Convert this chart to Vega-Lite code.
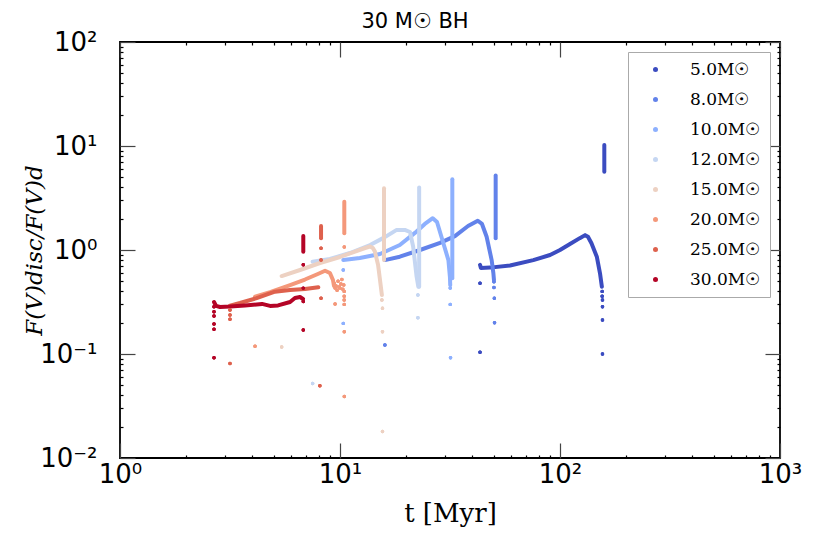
{
  "$schema": "https://vega.github.io/schema/vega-lite/v6.json",
  "width": 660,
  "height": 416,
  "autosize": {"type": "none"},
  "padding": {"left": 120, "top": 42, "right": 50, "bottom": 96},
  "title": {
    "text": "30 M☉ BH",
    "font": "DejaVu Sans",
    "fontSize": 21,
    "fontWeight": "normal",
    "color": "black",
    "anchor": "middle",
    "baseline": "alphabetic",
    "dx": -35,
    "offset": -20
  },
  "config": {
    "view": {"stroke": "black", "strokeWidth": 1.8},
    "axis": {
      "domain": false,
      "tickColor": "black",
      "tickWidth": 1.2,
      "grid": false,
      "labelColor": "black",
      "labelFont": "DejaVu Sans",
      "labelFontSize": 26,
      "labelOverlap": false,
      "labelFlush": false,
      "titleColor": "black",
      "titleFontWeight": "normal"
    }
  },
  "data": {
    "values": [
      {"m": "5.0M☉", "k": "l", "s": "5a", "t": 43.3, "f": 0.72},
      {"m": "5.0M☉", "k": "l", "s": "5a", "t": 43.7, "f": 0.67},
      {"m": "5.0M☉", "k": "l", "s": "5a", "t": 48.1, "f": 0.677},
      {"m": "5.0M☉", "k": "l", "s": "5a", "t": 59.3, "f": 0.709},
      {"m": "5.0M☉", "k": "l", "s": "5a", "t": 75.6, "f": 0.8},
      {"m": "5.0M☉", "k": "l", "s": "5a", "t": 90.1, "f": 0.895},
      {"m": "5.0M☉", "k": "l", "s": "5a", "t": 100, "f": 1.0},
      {"m": "5.0M☉", "k": "l", "s": "5a", "t": 111, "f": 1.14},
      {"m": "5.0M☉", "k": "l", "s": "5a", "t": 123, "f": 1.3},
      {"m": "5.0M☉", "k": "l", "s": "5a", "t": 130, "f": 1.39},
      {"m": "5.0M☉", "k": "l", "s": "5a", "t": 134, "f": 1.34},
      {"m": "5.0M☉", "k": "l", "s": "5a", "t": 139, "f": 1.16},
      {"m": "5.0M☉", "k": "l", "s": "5a", "t": 147, "f": 0.862},
      {"m": "5.0M☉", "k": "l", "s": "5a", "t": 152, "f": 0.597},
      {"m": "5.0M☉", "k": "l", "s": "5a", "t": 155, "f": 0.444},
      {"m": "5.0M☉", "k": "l", "s": "5s", "t": 159, "f": 5.66},
      {"m": "5.0M☉", "k": "l", "s": "5s", "t": 159, "f": 10.2},
      {"m": "5.0M☉", "k": "d", "t": 155.5, "f": 0.4},
      {"m": "5.0M☉", "k": "d", "t": 155.5, "f": 0.36},
      {"m": "5.0M☉", "k": "d", "t": 156, "f": 0.33},
      {"m": "5.0M☉", "k": "d", "t": 156, "f": 0.285},
      {"m": "5.0M☉", "k": "d", "t": 156, "f": 0.212},
      {"m": "5.0M☉", "k": "d", "t": 156, "f": 0.1},
      {"m": "5.0M☉", "k": "d", "t": 43.3, "f": 0.478},
      {"m": "5.0M☉", "k": "d", "t": 43.3, "f": 0.104},

      {"m": "8.0M☉", "k": "l", "s": "8a", "t": 16.0, "f": 0.8},
      {"m": "8.0M☉", "k": "l", "s": "8a", "t": 18.7, "f": 0.862},
      {"m": "8.0M☉", "k": "l", "s": "8a", "t": 23.1, "f": 1.0},
      {"m": "8.0M☉", "k": "l", "s": "8a", "t": 28.5, "f": 1.17},
      {"m": "8.0M☉", "k": "l", "s": "8a", "t": 33.3, "f": 1.36},
      {"m": "8.0M☉", "k": "l", "s": "8a", "t": 38.2, "f": 1.7},
      {"m": "8.0M☉", "k": "l", "s": "8a", "t": 42.3, "f": 1.91},
      {"m": "8.0M☉", "k": "l", "s": "8a", "t": 44.2, "f": 1.78},
      {"m": "8.0M☉", "k": "l", "s": "8a", "t": 46.4, "f": 1.34},
      {"m": "8.0M☉", "k": "l", "s": "8a", "t": 48.9, "f": 0.8},
      {"m": "8.0M☉", "k": "l", "s": "8a", "t": 49.8, "f": 0.597},
      {"m": "8.0M☉", "k": "l", "s": "8a", "t": 50.1, "f": 0.515},
      {"m": "8.0M☉", "k": "l", "s": "8s", "t": 51.0, "f": 1.3},
      {"m": "8.0M☉", "k": "l", "s": "8s", "t": 51.0, "f": 5.2},
      {"m": "8.0M☉", "k": "d", "t": 50.1, "f": 0.495},
      {"m": "8.0M☉", "k": "d", "t": 50.1, "f": 0.436},
      {"m": "8.0M☉", "k": "d", "t": 50.3, "f": 0.343},
      {"m": "8.0M☉", "k": "d", "t": 50.4, "f": 0.2},
      {"m": "8.0M☉", "k": "d", "t": 16.0, "f": 0.122},

      {"m": "10.0M☉", "k": "l", "s": "10a", "t": 10.35, "f": 0.8},
      {"m": "10.0M☉", "k": "l", "s": "10a", "t": 12.3, "f": 0.838},
      {"m": "10.0M☉", "k": "l", "s": "10a", "t": 15.2, "f": 0.915},
      {"m": "10.0M☉", "k": "l", "s": "10a", "t": 18.7, "f": 1.117},
      {"m": "10.0M☉", "k": "l", "s": "10a", "t": 21.9, "f": 1.46},
      {"m": "10.0M☉", "k": "l", "s": "10a", "t": 24.3, "f": 1.78},
      {"m": "10.0M☉", "k": "l", "s": "10a", "t": 26.4, "f": 2.02},
      {"m": "10.0M☉", "k": "l", "s": "10a", "t": 27.6, "f": 1.86},
      {"m": "10.0M☉", "k": "l", "s": "10a", "t": 29.5, "f": 1.16},
      {"m": "10.0M☉", "k": "l", "s": "10a", "t": 31.1, "f": 0.8},
      {"m": "10.0M☉", "k": "l", "s": "10a", "t": 31.6, "f": 0.55},
      {"m": "10.0M☉", "k": "l", "s": "10a", "t": 31.7, "f": 0.46},
      {"m": "10.0M☉", "k": "l", "s": "10s", "t": 32.4, "f": 0.535},
      {"m": "10.0M☉", "k": "l", "s": "10s", "t": 32.4, "f": 4.8},
      {"m": "10.0M☉", "k": "d", "t": 31.7, "f": 0.43},
      {"m": "10.0M☉", "k": "d", "t": 31.7, "f": 0.3},
      {"m": "10.0M☉", "k": "d", "t": 31.8, "f": 0.092},
      {"m": "10.0M☉", "k": "d", "t": 10.35, "f": 0.642},
      {"m": "10.0M☉", "k": "d", "t": 10.35, "f": 0.197},

      {"m": "12.0M☉", "k": "l", "s": "12a", "t": 7.51, "f": 0.772},
      {"m": "12.0M☉", "k": "l", "s": "12a", "t": 9.0, "f": 0.82},
      {"m": "12.0M☉", "k": "l", "s": "12a", "t": 11.1, "f": 0.936},
      {"m": "12.0M☉", "k": "l", "s": "12a", "t": 13.7, "f": 1.117},
      {"m": "12.0M☉", "k": "l", "s": "12a", "t": 16.0, "f": 1.33},
      {"m": "12.0M☉", "k": "l", "s": "12a", "t": 18.1, "f": 1.56},
      {"m": "12.0M☉", "k": "l", "s": "12a", "t": 19.7, "f": 1.56},
      {"m": "12.0M☉", "k": "l", "s": "12a", "t": 20.8, "f": 1.49},
      {"m": "12.0M☉", "k": "l", "s": "12a", "t": 21.5, "f": 1.08},
      {"m": "12.0M☉", "k": "l", "s": "12a", "t": 22.3, "f": 0.553},
      {"m": "12.0M☉", "k": "l", "s": "12a", "t": 22.7, "f": 0.444},
      {"m": "12.0M☉", "k": "l", "s": "12s", "t": 22.9, "f": 0.444},
      {"m": "12.0M☉", "k": "l", "s": "12s", "t": 22.9, "f": 4.0},
      {"m": "12.0M☉", "k": "d", "t": 22.6, "f": 0.369},
      {"m": "12.0M☉", "k": "d", "t": 22.6, "f": 0.223},
      {"m": "12.0M☉", "k": "d", "t": 7.51, "f": 0.052},

      {"m": "15.0M☉", "k": "l", "s": "15a", "t": 5.43, "f": 0.562},
      {"m": "15.0M☉", "k": "l", "s": "15a", "t": 6.58, "f": 0.642},
      {"m": "15.0M☉", "k": "l", "s": "15a", "t": 8.11, "f": 0.75},
      {"m": "15.0M☉", "k": "l", "s": "15a", "t": 10.0, "f": 0.857},
      {"m": "15.0M☉", "k": "l", "s": "15a", "t": 11.7, "f": 0.967},
      {"m": "15.0M☉", "k": "l", "s": "15a", "t": 13.0, "f": 1.045},
      {"m": "15.0M☉", "k": "l", "s": "15a", "t": 13.7, "f": 1.08},
      {"m": "15.0M☉", "k": "l", "s": "15a", "t": 14.1, "f": 1.045},
      {"m": "15.0M☉", "k": "l", "s": "15a", "t": 14.4, "f": 0.97},
      {"m": "15.0M☉", "k": "l", "s": "15a", "t": 14.9, "f": 0.717},
      {"m": "15.0M☉", "k": "l", "s": "15a", "t": 15.2, "f": 0.515},
      {"m": "15.0M☉", "k": "l", "s": "15a", "t": 15.5, "f": 0.369},
      {"m": "15.0M☉", "k": "l", "s": "15s", "t": 15.85, "f": 0.8},
      {"m": "15.0M☉", "k": "l", "s": "15s", "t": 15.85, "f": 3.92},
      {"m": "15.0M☉", "k": "d", "t": 15.5, "f": 0.33},
      {"m": "15.0M☉", "k": "d", "t": 15.6, "f": 0.275},
      {"m": "15.0M☉", "k": "d", "t": 15.6, "f": 0.164},
      {"m": "15.0M☉", "k": "d", "t": 15.6, "f": 0.018},
      {"m": "15.0M☉", "k": "d", "t": 5.43, "f": 0.117},

      {"m": "20.0M☉", "k": "l", "s": "20a", "t": 4.11, "f": 0.356},
      {"m": "20.0M☉", "k": "l", "s": "20a", "t": 4.81, "f": 0.394},
      {"m": "20.0M☉", "k": "l", "s": "20a", "t": 5.93, "f": 0.46},
      {"m": "20.0M☉", "k": "l", "s": "20a", "t": 6.93, "f": 0.52},
      {"m": "20.0M☉", "k": "l", "s": "20a", "t": 7.93, "f": 0.588},
      {"m": "20.0M☉", "k": "l", "s": "20a", "t": 8.55, "f": 0.632},
      {"m": "20.0M☉", "k": "l", "s": "20a", "t": 9.0, "f": 0.601},
      {"m": "20.0M☉", "k": "l", "s": "20a", "t": 9.29, "f": 0.515},
      {"m": "20.0M☉", "k": "l", "s": "20a", "t": 9.39, "f": 0.451},
      {"m": "20.0M☉", "k": "l", "s": "20s", "t": 10.46, "f": 1.45},
      {"m": "20.0M☉", "k": "l", "s": "20s", "t": 10.46, "f": 2.91},
      {"m": "20.0M☉", "k": "d", "t": 9.4, "f": 0.48},
      {"m": "20.0M☉", "k": "d", "t": 9.5, "f": 0.43},
      {"m": "20.0M☉", "k": "d", "t": 9.6, "f": 0.45},
      {"m": "20.0M☉", "k": "d", "t": 9.7, "f": 0.41},
      {"m": "20.0M☉", "k": "d", "t": 9.8, "f": 0.5},
      {"m": "20.0M☉", "k": "d", "t": 9.9, "f": 0.44},
      {"m": "20.0M☉", "k": "d", "t": 10.0, "f": 0.43},
      {"m": "20.0M☉", "k": "d", "t": 10.1, "f": 0.47},
      {"m": "20.0M☉", "k": "d", "t": 10.2, "f": 0.52},
      {"m": "20.0M☉", "k": "d", "t": 10.3, "f": 0.42},
      {"m": "20.0M☉", "k": "d", "t": 10.4, "f": 0.46},
      {"m": "20.0M☉", "k": "d", "t": 10.45, "f": 0.4},
      {"m": "20.0M☉", "k": "d", "t": 10.45, "f": 0.36},
      {"m": "20.0M☉", "k": "d", "t": 10.45, "f": 0.33},
      {"m": "20.0M☉", "k": "d", "t": 10.45, "f": 0.3},
      {"m": "20.0M☉", "k": "d", "t": 9.5, "f": 0.303},
      {"m": "20.0M☉", "k": "d", "t": 10.46, "f": 1.07},
      {"m": "20.0M☉", "k": "d", "t": 10.46, "f": 0.164},
      {"m": "20.0M☉", "k": "d", "t": 10.46, "f": 0.039},
      {"m": "20.0M☉", "k": "d", "t": 4.11, "f": 0.119},

      {"m": "25.0M☉", "k": "l", "s": "25a", "t": 3.162, "f": 0.292},
      {"m": "25.0M☉", "k": "l", "s": "25a", "t": 3.51, "f": 0.309},
      {"m": "25.0M☉", "k": "l", "s": "25a", "t": 4.18, "f": 0.344},
      {"m": "25.0M☉", "k": "l", "s": "25a", "t": 5.06, "f": 0.397},
      {"m": "25.0M☉", "k": "l", "s": "25a", "t": 5.93, "f": 0.412},
      {"m": "25.0M☉", "k": "l", "s": "25a", "t": 6.93, "f": 0.422},
      {"m": "25.0M☉", "k": "l", "s": "25a", "t": 7.97, "f": 0.438},
      {"m": "25.0M☉", "k": "l", "s": "25s", "t": 8.2, "f": 1.3},
      {"m": "25.0M☉", "k": "l", "s": "25s", "t": 8.2, "f": 1.7},
      {"m": "25.0M☉", "k": "d", "t": 8.2, "f": 1.04},
      {"m": "25.0M☉", "k": "d", "t": 8.2, "f": 0.8},
      {"m": "25.0M☉", "k": "d", "t": 8.2, "f": 0.344},
      {"m": "25.0M☉", "k": "d", "t": 8.1, "f": 0.0495},
      {"m": "25.0M☉", "k": "d", "t": 3.162, "f": 0.265},
      {"m": "25.0M☉", "k": "d", "t": 3.162, "f": 0.237},
      {"m": "25.0M☉", "k": "d", "t": 3.162, "f": 0.216},
      {"m": "25.0M☉", "k": "d", "t": 3.162, "f": 0.081},

      {"m": "30.0M☉", "k": "l", "s": "30a", "t": 2.675, "f": 0.316},
      {"m": "30.0M☉", "k": "l", "s": "30a", "t": 2.732, "f": 0.29},
      {"m": "30.0M☉", "k": "l", "s": "30a", "t": 2.848, "f": 0.283},
      {"m": "30.0M☉", "k": "l", "s": "30a", "t": 3.162, "f": 0.286},
      {"m": "30.0M☉", "k": "l", "s": "30a", "t": 3.7, "f": 0.293},
      {"m": "30.0M☉", "k": "l", "s": "30a", "t": 4.42, "f": 0.303},
      {"m": "30.0M☉", "k": "l", "s": "30a", "t": 4.81, "f": 0.29},
      {"m": "30.0M☉", "k": "l", "s": "30a", "t": 5.23, "f": 0.293},
      {"m": "30.0M☉", "k": "l", "s": "30a", "t": 5.93, "f": 0.316},
      {"m": "30.0M☉", "k": "l", "s": "30a", "t": 6.24, "f": 0.345},
      {"m": "30.0M☉", "k": "l", "s": "30a", "t": 6.58, "f": 0.353},
      {"m": "30.0M☉", "k": "l", "s": "30a", "t": 6.79, "f": 0.338},
      {"m": "30.0M☉", "k": "l", "s": "30s", "t": 6.81, "f": 0.96},
      {"m": "30.0M☉", "k": "l", "s": "30s", "t": 6.81, "f": 1.36},
      {"m": "30.0M☉", "k": "d", "t": 6.81, "f": 0.72},
      {"m": "30.0M☉", "k": "d", "t": 6.81, "f": 0.43},
      {"m": "30.0M☉", "k": "d", "t": 6.81, "f": 0.32},
      {"m": "30.0M☉", "k": "d", "t": 6.81, "f": 0.17},
      {"m": "30.0M☉", "k": "d", "t": 2.675, "f": 0.285},
      {"m": "30.0M☉", "k": "d", "t": 2.675, "f": 0.255},
      {"m": "30.0M☉", "k": "d", "t": 2.675, "f": 0.232},
      {"m": "30.0M☉", "k": "d", "t": 2.675, "f": 0.194},
      {"m": "30.0M☉", "k": "d", "t": 2.675, "f": 0.173},
      {"m": "30.0M☉", "k": "d", "t": 2.675, "f": 0.092}
    ]
  },
  "layer": [
    {
      "transform": [{"filter": "datum.k == 'l'"}],
      "mark": {"type": "line", "strokeWidth": 4, "strokeCap": "round", "strokeJoin": "round"},
      "encoding": {
        "x": {
          "field": "t", "type": "quantitative",
          "scale": {"type": "log", "domain": [1, 1000]},
          "axis": {
            "orient": "bottom",
            "values": [1, 10, 100, 1000],
            "labelExpr": "datum.value == 1 ? '10⁰' : datum.value == 10 ? '10¹' : datum.value == 100 ? '10²' : '10³'",
            "tickSize": 15,
            "tickColor": "#444444",
            "offset": -15,
            "labelPadding": 3,
            "title": "t [Myr]",
            "titleFont": "DejaVu Serif",
            "titleFontSize": 26,
            "titlePadding": 13
          }
        },
        "y": {
          "field": "f", "type": "quantitative",
          "scale": {"type": "log", "domain": [0.01, 100]},
          "axis": {
            "orient": "left",
            "values": [0.01, 0.1, 1, 10, 100],
            "labelExpr": "datum.value == 0.01 ? '10⁻²' : datum.value == 0.1 ? '10⁻¹' : datum.value == 1 ? '10⁰' : datum.value == 10 ? '10¹' : '10²'",
            "tickSize": 15,
            "tickColor": "#444444",
            "offset": -15,
            "labelPadding": 23,
            "title": "F(V)disc/F(V)d",
            "titleFont": "DejaVu Serif",
            "titleFontStyle": "italic",
            "titleFontSize": 23,
            "titlePadding": -7
          }
        },
        "stroke": {
          "field": "m", "type": "nominal",
          "scale": {
            "domain": ["30.0M☉", "25.0M☉", "20.0M☉", "15.0M☉", "12.0M☉", "10.0M☉", "8.0M☉", "5.0M☉"],
            "range": ["#b40426", "#de614d", "#f4987a", "#edd1c2", "#c5d6f2", "#8db0fe", "#6282ea", "#3b4cc0"]
          },
          "legend": null
        },
        "detail": {"field": "s"}
      }
    },
    {
      "transform": [{"filter": "datum.k == 'd'"}],
      "mark": {"type": "circle", "size": 12, "opacity": 1},
      "encoding": {
        "x": {
          "field": "t", "type": "quantitative",
          "scale": {"type": "log", "domain": [1, 1000]},
          "axis": {
            "orient": "bottom",
            "values": [2, 3, 4, 5, 6, 7, 8, 9, 20, 30, 40, 50, 60, 70, 80, 90, 200, 300, 400, 500, 600, 700, 800, 900],
            "labels": false,
            "tickSize": 3,
            "offset": -3,
            "title": null
          }
        },
        "y": {
          "field": "f", "type": "quantitative",
          "scale": {"type": "log", "domain": [0.01, 100]},
          "axis": {
            "orient": "left",
            "values": [0.02, 0.03, 0.04, 0.05, 0.06, 0.07, 0.08, 0.09, 0.2, 0.3, 0.4, 0.5, 0.6, 0.7, 0.8, 0.9, 2, 3, 4, 5, 6, 7, 8, 9, 20, 30, 40, 50, 60, 70, 80, 90],
            "labels": false,
            "tickSize": 3,
            "offset": -3,
            "title": null
          }
        },
        "color": {
          "field": "m", "type": "nominal",
          "scale": {
            "domain": ["5.0M☉", "8.0M☉", "10.0M☉", "12.0M☉", "15.0M☉", "20.0M☉", "25.0M☉", "30.0M☉"],
            "range": ["#3b4cc0", "#6282ea", "#8db0fe", "#c5d6f2", "#edd1c2", "#f4987a", "#de614d", "#b40426"]
          },
          "legend": {
            "title": null,
            "orient": "top-right",
            "offset": 10,
            "fillColor": "white",
            "strokeColor": "#aaaaaa",
            "padding": 9,
            "rowPadding": 12,
            "symbolType": "circle",
            "symbolSize": 25,
            "symbolOffset": 10,
            "labelOffset": 26,
            "labelFont": "DejaVu Serif",
            "labelFontSize": 17,
            "labelColor": "black",
            "labelLimit": 0
          }
        }
      }
    },
    {
      "transform": [{"filter": "datum.k == 'd'"}],
      "mark": {"type": "circle", "size": 12, "opacity": 1},
      "encoding": {
        "x": {
          "field": "t", "type": "quantitative",
          "scale": {"type": "log", "domain": [1, 1000]},
          "axis": {"orient": "top", "values": [1, 10, 100, 1000], "labels": false, "tickSize": 15, "tickColor": "#444444", "offset": -15, "title": null}
        },
        "y": {
          "field": "f", "type": "quantitative",
          "scale": {"type": "log", "domain": [0.01, 100]},
          "axis": {"orient": "right", "values": [0.01, 0.1, 1, 10, 100], "labels": false, "tickSize": 15, "tickColor": "#444444", "offset": -15, "title": null}
        },
        "color": {"field": "m", "type": "nominal"}
      }
    },
    {
      "transform": [{"filter": "datum.k == 'd'"}],
      "mark": {"type": "circle", "size": 12, "opacity": 1},
      "encoding": {
        "x": {
          "field": "t", "type": "quantitative",
          "scale": {"type": "log", "domain": [1, 1000]},
          "axis": {
            "orient": "top",
            "values": [2, 3, 4, 5, 6, 7, 8, 9, 20, 30, 40, 50, 60, 70, 80, 90, 200, 300, 400, 500, 600, 700, 800, 900],
            "labels": false, "tickSize": 3, "offset": -3, "title": null
          }
        },
        "y": {
          "field": "f", "type": "quantitative",
          "scale": {"type": "log", "domain": [0.01, 100]},
          "axis": {
            "orient": "right",
            "values": [0.02, 0.03, 0.04, 0.05, 0.06, 0.07, 0.08, 0.09, 0.2, 0.3, 0.4, 0.5, 0.6, 0.7, 0.8, 0.9, 2, 3, 4, 5, 6, 7, 8, 9, 20, 30, 40, 50, 60, 70, 80, 90],
            "labels": false, "tickSize": 3, "offset": -3, "title": null
          }
        },
        "color": {"field": "m", "type": "nominal"}
      }
    }
  ],
  "resolve": {"axis": {"x": "independent", "y": "independent"}}
}
